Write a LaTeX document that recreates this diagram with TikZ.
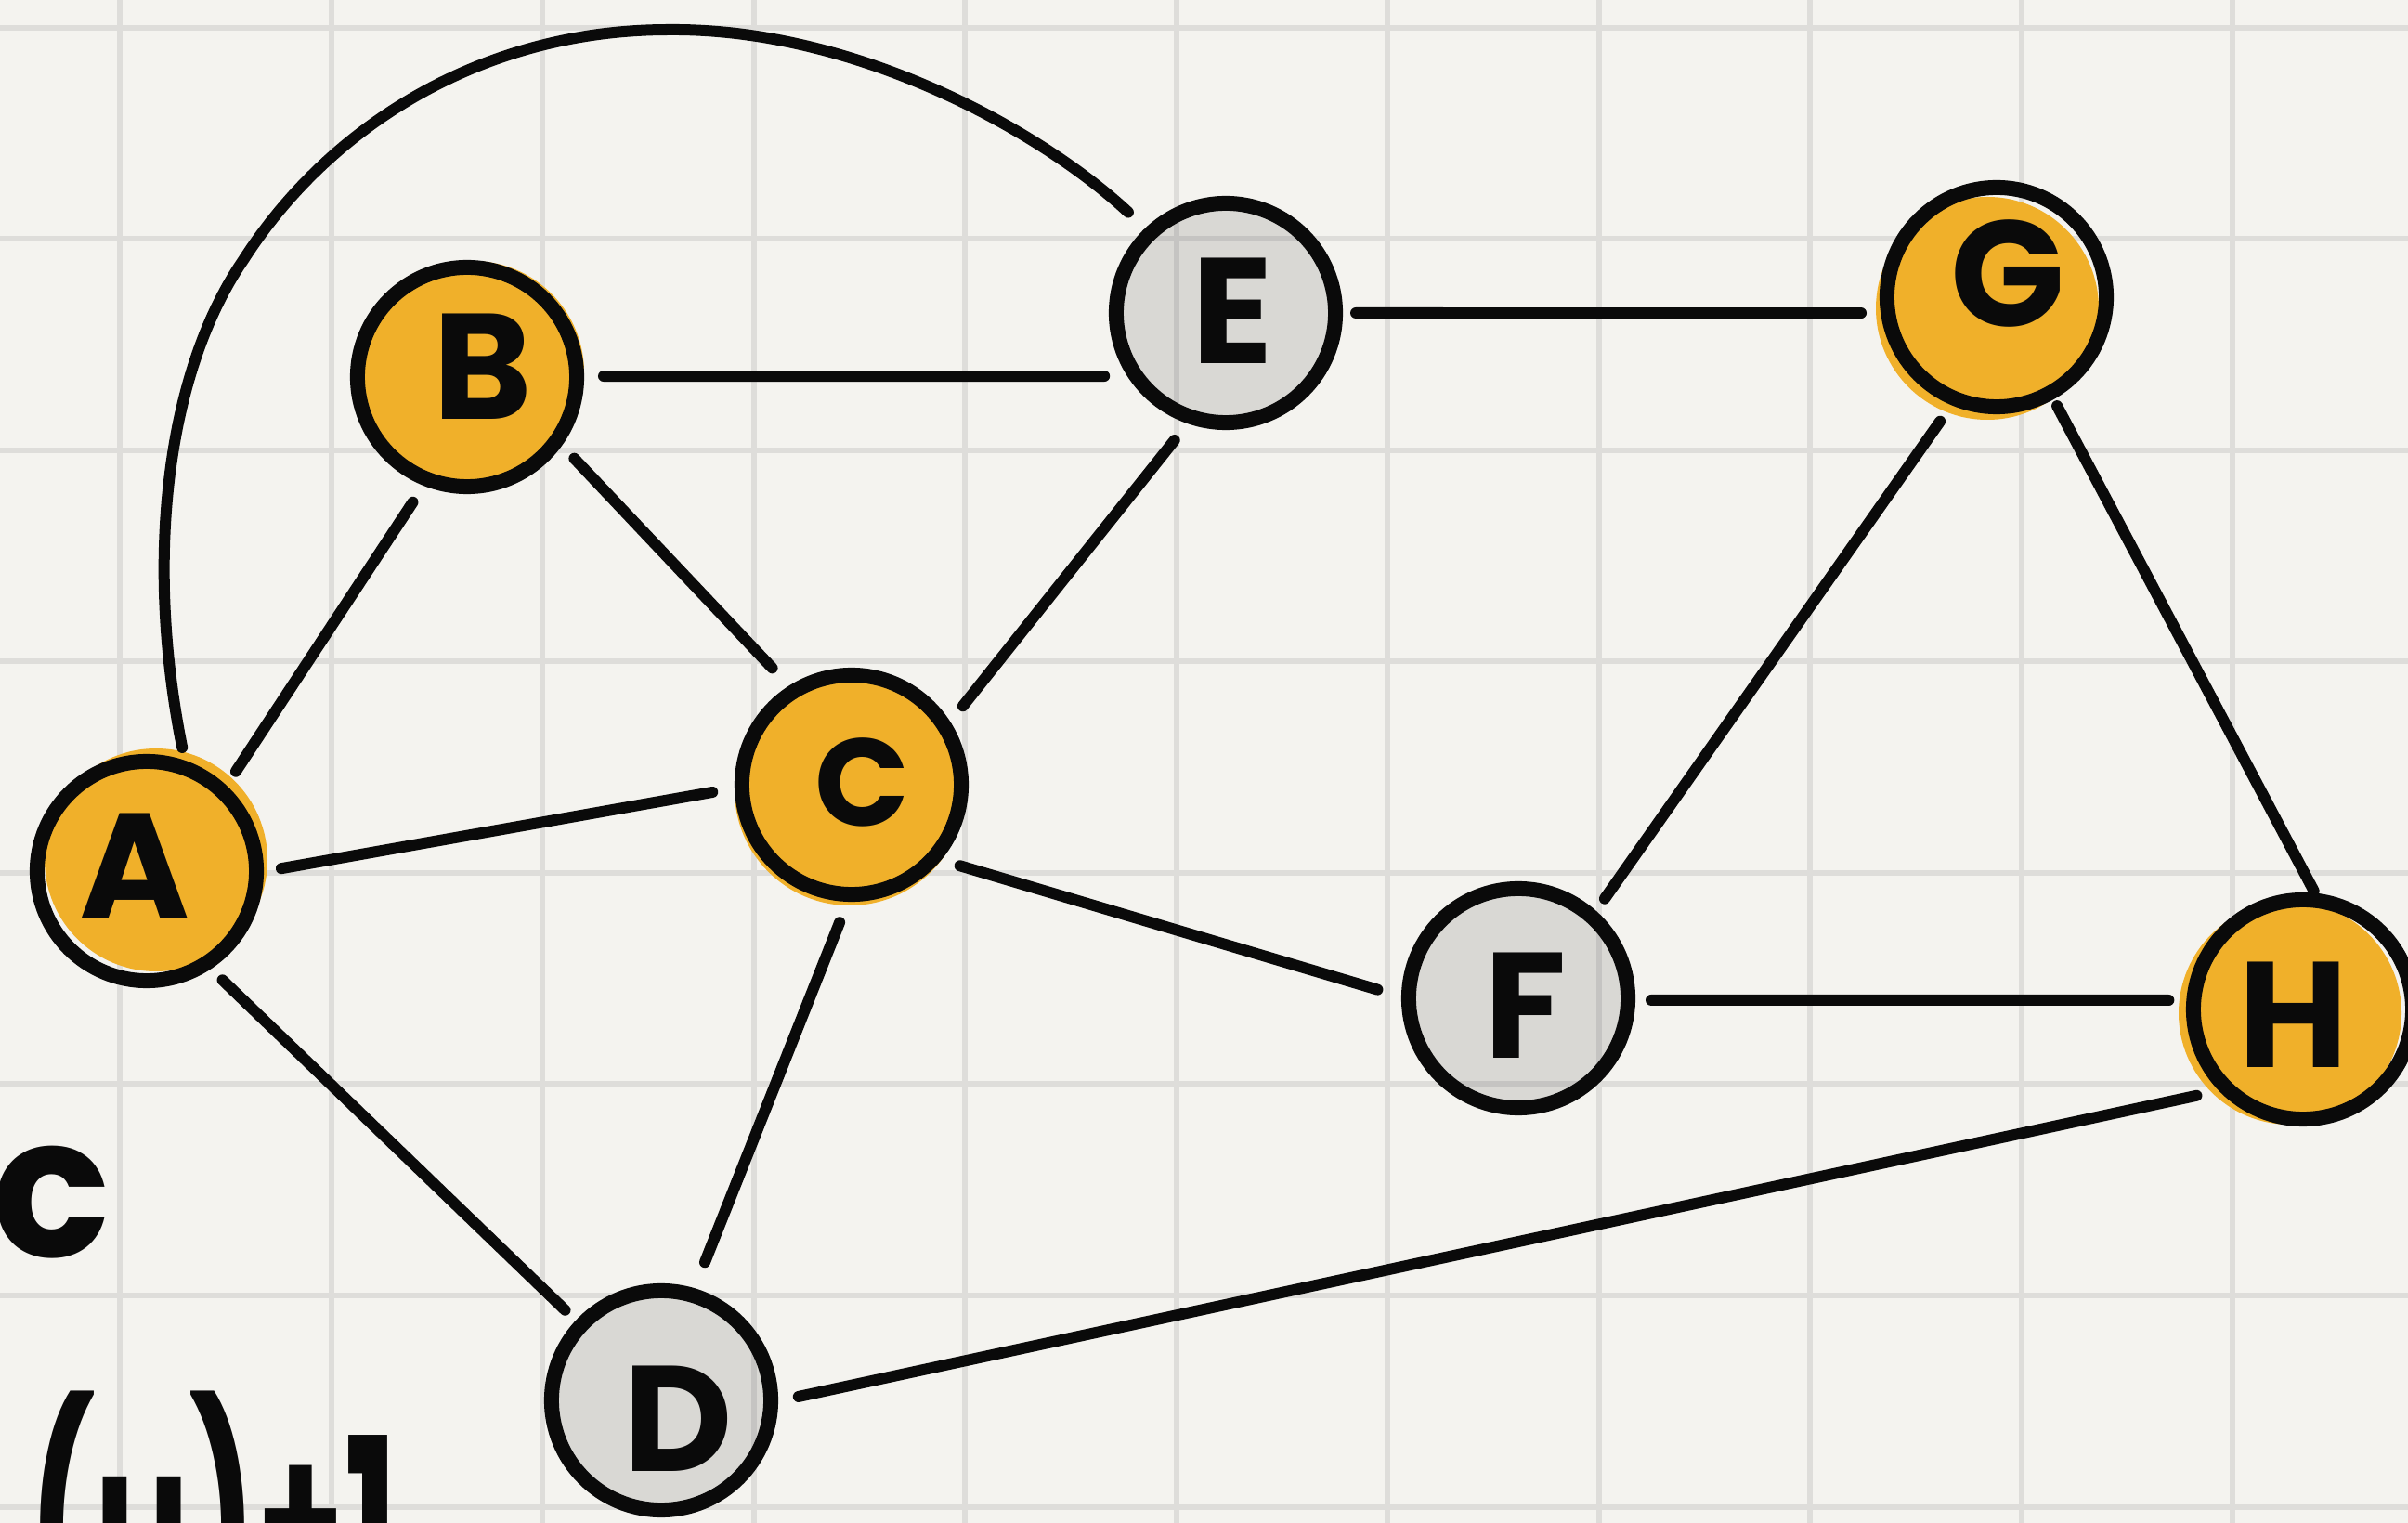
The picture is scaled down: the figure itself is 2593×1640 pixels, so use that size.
\documentclass[tikz,border=0pt]{standalone}
\usepackage{fontspec}
\usepackage{graphicx}
\newfontfamily\handfont{Poppins}
\usetikzlibrary{calc}
\definecolor{paper}{HTML}{F4F3EF}
\definecolor{gridgray}{HTML}{DEDDDA}
\definecolor{marker}{HTML}{F0B02A}
\definecolor{ink}{HTML}{0A0A0A}
\begin{document}
\begin{tikzpicture}[x=0.01cm, y=0.01cm,
  gridline/.style={draw=gridgray, line width=0.06cm},
  vertex/.style={circle, draw=ink, line width=0.16cm, minimum size=2.36cm, inner sep=0pt},
  grayvertex/.style={vertex, fill=black, fill opacity=0.11, draw opacity=1},
  blob/.style={fill=marker},
  lbl/.style={font=\handfont\bfseries\fontsize{46}{50}\selectfont, text=ink, inner sep=0pt, fill opacity=1, text opacity=1},
  smalllbl/.style={lbl, font=\handfont\bfseries\fontsize{38}{42}\selectfont},
  edge/.style={draw=ink, line width=0.12cm, line cap=round, shorten <=0.05cm, shorten >=0.05cm},
  scrawl/.style={text=ink, inner sep=0pt}
]
% page and squared paper
\useasboundingbox (0,0) rectangle (2593,-1640);
\clip (0,0) rectangle (2593,-1640);
\fill[paper] (0,0) rectangle (2593,-1640);
\foreach \i in {0,...,10} \draw[gridline] ({129+227.5*\i},0) -- ({129+227.5*\i},-1640);
\foreach \j in {0,...,7} \draw[gridline] (0,{-30-227.5*\j}) -- (2593,{-30-227.5*\j});

% vertex positions
\coordinate (pA) at (158,-938);
\coordinate (pB) at (503,-406);
\coordinate (pC) at (917,-845);
\coordinate (pD) at (712,-1508);
\coordinate (pE) at (1320,-337);
\coordinate (pF) at (1635,-1075);
\coordinate (pG) at (2150,-320);
\coordinate (pH) at (2480,-1087);

% marker colouring, laid down slightly off the outlines
\fill[blob] ($(pA)+(10,12)$) circle (120);
\fill[blob] ($(pB)+(6,5)$) circle (120);
\fill[blob] ($(pC)+(-2,-6)$) circle (124);
\fill[blob] ($(pG)+(-10,-12)$) circle (120);
\fill[blob] ($(pH)+(-14,-4)$) circle (120);

% vertices
\node[vertex, label={[lbl, xshift=-0.13cm, yshift=0.05cm]center:A}] (A) at (pA) {};
\node[vertex, label={[lbl, xshift=0.17cm, yshift=0.11cm]center:B}] (B) at (pB) {};
\node[vertex, label={[smalllbl, xshift=0.11cm, yshift=0.03cm]center:C}] (C) at (pC) {};
\node[grayvertex, label={[lbl, xshift=0.18cm, yshift=-0.20cm]center:D}] (D) at (pD) {};
\node[grayvertex, label={[lbl, xshift=0.07cm, yshift=0.02cm]center:E}] (E) at (pE) {};
\node[grayvertex, label={[lbl, xshift=0.08cm, yshift=-0.08cm]center:F}] (F) at (pF) {};
\node[vertex, label={[lbl, xshift=0.12cm, yshift=0.25cm]center:G}] (G) at (pG) {};
\node[vertex, label={[lbl, xshift=-0.10cm, yshift=-0.06cm]center:H}] (H) at (pH) {};

% edges, each leaving its circle where the pen met it
\draw[edge] ($(A)+(47.9:139)$) -- ($(B)+(246.9:142)$);
\draw[edge] ($(A)+(0.8:140)$) -- ($(C)+(182.8:145)$);
\draw[edge] ($(A)+(304.4:138)$) -- ($(D)+(136.8:137)$);
\draw[edge] ($(B)+(0.4:142)$) -- ($(E)+(208.4:143)$);
\draw[edge] ($(B)+(323.1:140)$) -- ($(C)+(123.9:147)$);
\draw[edge] ($(C)+(34.7:142)$) -- ($(E)+(248.6:143)$);
\draw[edge] ($(C)+(322.5:141)$) -- ($(F)+(176.9:147)$);
\draw[edge] ($(C)+(265.6:144)$) -- ($(D)+(72.6:151)$);
\draw[edge] ($(E)+(0:135)$) -- ($(G)+(186.9:142)$);
\draw[edge] ($(G)+(245.9:142)$) -- ($(F)+(48.9:137)$);
\draw[edge] ($(G)+(299.1:129)$) -- ($(H)+(83.5:124)$);
\draw[edge] ($(F)+(359.2:138)$) -- ($(H)+(175.9:140)$);
\draw[edge] ($(D)+(1.2:143)$) -- ($(H)+(219.9:143)$);
\draw[edge] ($(A)+(73:134)$)
  .. controls (155,-600) and (180,-400) .. (262,-280)
  .. controls (355,-135) and (520,-32) .. (720,-32)
  .. controls (920,-30) and (1120,-140) .. ($(E)+(134:146)$);

% handwriting running off the page edge
\node[scrawl, font=\handfont\bfseries\fontsize{60}{64}\selectfont] (note1) at (55,-1295) {c};
\node[scrawl, anchor=base west, font=\handfont\bfseries\fontsize{74}{80}\selectfont] (note2) at (30,-1735) {\scalebox{0.58}[1]{(u)+1}};
\end{tikzpicture}
\end{document}
